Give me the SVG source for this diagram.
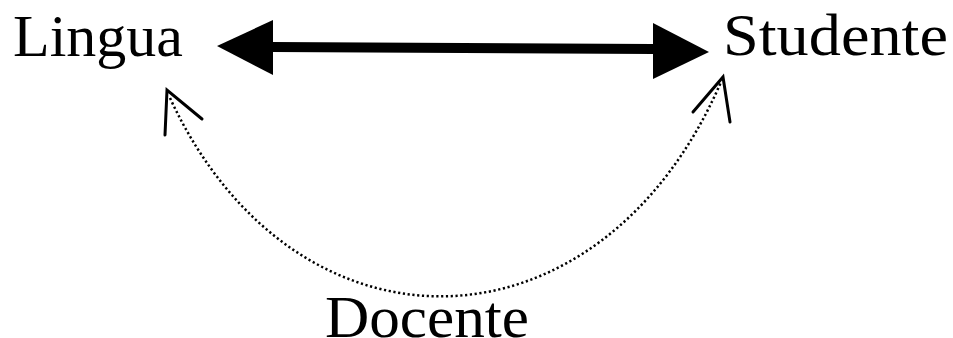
<svg xmlns="http://www.w3.org/2000/svg" width="953" height="338" viewBox="0 0 953 338">
<style>
.lbl{font-family:"Liberation Serif","DejaVu Serif",serif;font-size:60px;fill:#000}
.dot{fill:none;stroke:#000;stroke-width:2.5;stroke-dasharray:2.2 2.6}
.head{fill:none;stroke:#000;stroke-width:3;stroke-linecap:round}
</style>
<rect width="953" height="338" fill="#fff"/>
<g id="lingua"><text class="lbl" x="13" y="56" textLength="170" lengthAdjust="spacingAndGlyphs">Lingua</text></g>
<g id="studente"><text class="lbl" x="723" y="55" textLength="225" lengthAdjust="spacingAndGlyphs">Studente</text></g>
<g id="docente"><text class="lbl" x="325" y="337" textLength="204" lengthAdjust="spacingAndGlyphs">Docente</text></g>
<g id="connectors">
<path d="M273,42 L653,44 L653,54 L273,52 Z" fill="#000"/>
<path d="M217,46 L273,20 L273,75 Z" fill="#000"/>
<path d="M709,52 L653,23 L653,79 Z" fill="#000"/>
<path class="dot" d="M170,98 C295,368 600,362 721,82"/>
<path class="head" d="M165,135 L167,90 L202,119"/>
<path class="head" d="M693,112 L723,77 L730,122"/>
</g>
</svg>
